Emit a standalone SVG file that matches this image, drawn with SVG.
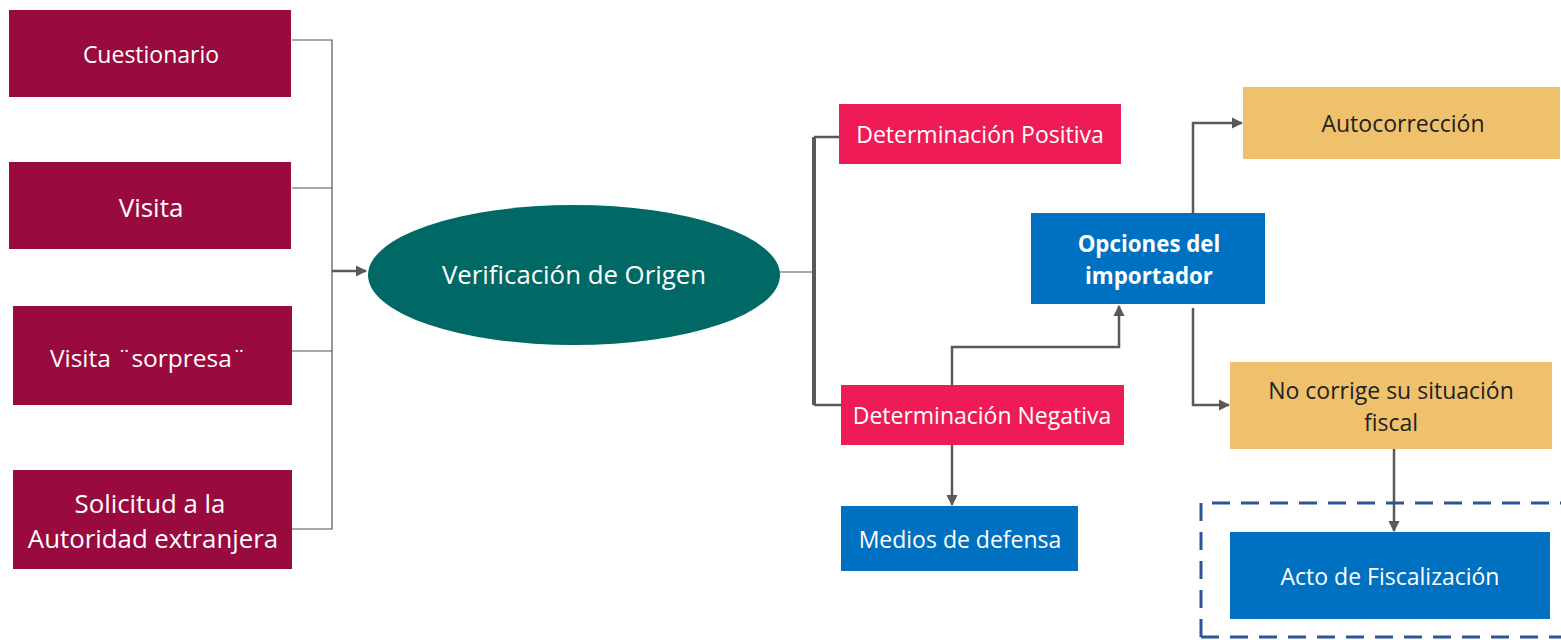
<svg xmlns="http://www.w3.org/2000/svg" width="1561" height="640" viewBox="0 0 1561 640">
<defs>
<marker id="ah" viewBox="0 0 10 10" refX="9" refY="5" markerWidth="4.5" markerHeight="4.5" orient="auto" markerUnits="strokeWidth">
<path d="M0,0 L10,5 L0,10 z" fill="#595959"/>
</marker>
<style>
.t{font-family:"Open Sans","Noto Sans",sans-serif;fill:#fff;text-anchor:middle;dominant-baseline:central}
.m{fill:#990B3E}
.p{fill:#EE1B56}
.b{fill:#0070C0}
.y{fill:#F0C16C}
.c{fill:none;stroke:#595959;stroke-width:2.5}
.k{fill:none;stroke:#555;stroke-width:1.2}
</style>
</defs>
<rect width="1561" height="640" fill="#fff"/>
<g id="connectors">
<path class="k" d="M292,40 H332 V529 H292 M292,188 H332 M292,351 H332"/>
<path class="c" d="M332,271 H366" marker-end="url(#ah)"/>
<path class="k" d="M779,272 H814"/>
<path d="M814,137 V405" stroke="#595959" stroke-width="4" fill="none"/>
<path class="c" d="M814,137 H839 M814,405 H841"/>
<path class="c" d="M952,445 V505" marker-end="url(#ah)"/>
<path class="c" d="M952,385 V347 H1119 V306" marker-end="url(#ah)"/>
<path class="c" d="M1193,213 V123 H1242" marker-end="url(#ah)"/>
<path class="c" d="M1193,308 V405 H1229" marker-end="url(#ah)"/>
<path class="c" d="M1394,449 V531" marker-end="url(#ah)"/>
</g>
<g id="group-fiscal">
<path d="M1201,637 V503 H1565 M1201,637 H1565" fill="none" stroke="#2F5597" stroke-width="3" stroke-dasharray="18,11"/>
</g>
<g id="n-cuestionario"><rect class="m" x="9" y="10" width="282" height="87"/><text class="t" x="151" y="54" font-size="23">Cuestionario</text></g>
<g id="n-visita"><rect class="m" x="9" y="162" width="282" height="87"/><text class="t" x="151" y="207" font-size="26">Visita</text></g>
<g id="n-sorpresa"><rect class="m" x="13" y="306" width="279" height="99"/><text class="t" x="148" y="357" font-size="24.5">Visita ¨sorpresa¨</text></g>
<g id="n-solicitud"><rect class="m" x="13" y="470" width="279" height="99"/><text class="t" x="150" y="503" font-size="25.8">Solicitud a la</text><text class="t" x="153" y="538" font-size="25.8">Autoridad extranjera</text></g>
<g id="n-verificacion"><ellipse cx="574" cy="275" rx="206" ry="70" fill="#006966"/><text class="t" x="574" y="274" font-size="25.8">Verificación de Origen</text></g>
<g id="n-positiva"><rect class="p" x="839" y="104" width="282" height="60"/><text class="t" x="980" y="134" font-size="23">Determinación Positiva</text></g>
<g id="n-negativa"><rect class="p" x="841" y="385" width="283" height="60"/><text class="t" x="982" y="415" font-size="23">Determinación Negativa</text></g>
<g id="n-medios"><rect class="b" x="841" y="506" width="237" height="65"/><text class="t" x="960" y="539" font-size="23">Medios de defensa</text></g>
<g id="n-opciones"><rect class="b" x="1031" y="213" width="234" height="91"/><text class="t" x="1149" y="243" font-size="22.3" font-weight="bold">Opciones del</text><text class="t" x="1149" y="275" font-size="22.3" font-weight="bold">importador</text></g>
<g id="n-autocorreccion"><rect class="y" x="1243" y="87" width="317" height="72"/><text class="t" x="1403" y="123" font-size="23" style="fill:#222">Autocorrección</text></g>
<g id="n-nocorrige"><rect class="y" x="1230" y="362" width="322" height="87"/><text class="t" x="1391" y="390" font-size="23" style="fill:#222">No corrige su situación</text><text class="t" x="1391" y="422" font-size="23" style="fill:#222">fiscal</text></g>
<g id="n-acto"><rect class="b" x="1230" y="532" width="320" height="87"/><text class="t" x="1390" y="576" font-size="23">Acto de Fiscalización</text></g>
</svg>
